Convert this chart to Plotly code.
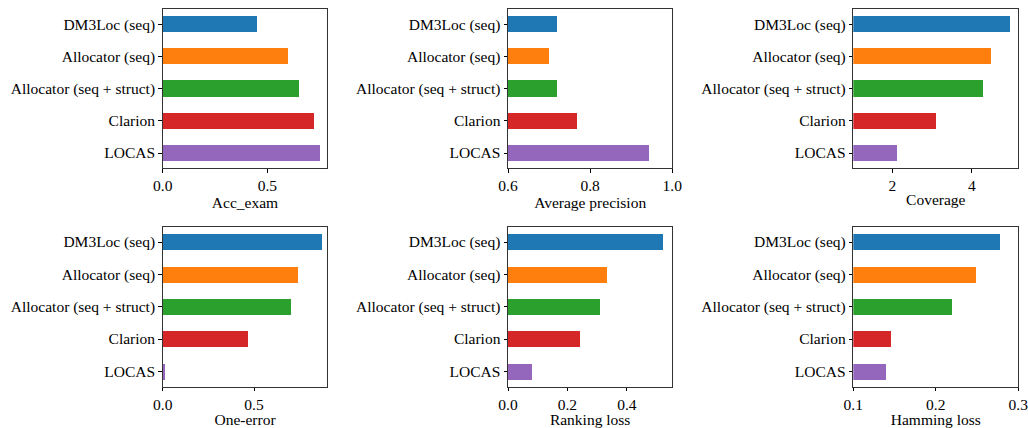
import plotly.graph_objects as go
from plotly.subplots import make_subplots

methods = ["DM3Loc (seq)", "Allocator (seq)", "Allocator (seq + struct)", "Clarion", "LOCAS"]
colors = ["#1f77b4", "#ff7f0e", "#2ca02c", "#d62728", "#9467bd"]

acc_exam = [0.449, 0.597, 0.650, 0.721, 0.748]
avg_precision = [0.720, 0.700, 0.720, 0.769, 0.944]
coverage = [4.97, 4.48, 4.29, 3.11, 2.13]
one_error = [0.870, 0.741, 0.701, 0.463, 0.011]
ranking_loss = [0.522, 0.332, 0.311, 0.242, 0.080]
hamming_loss = [0.278, 0.249, 0.220, 0.146, 0.140]

metrics = [
    ("Acc_exam", acc_exam, [0, 0.786], [0, 0.5], ["0.0", "0.5"]),
    ("Average precision", avg_precision, [0.6, 1.0], [0.6, 0.8, 1.0], ["0.6", "0.8", "1.0"]),
    ("Coverage", coverage, [1.02, 5.17], [2, 4], ["2", "4"]),
    ("One-error", one_error, [0, 0.901], [0, 0.5], ["0.0", "0.5"]),
    ("Ranking loss", ranking_loss, [0, 0.553], [0, 0.2, 0.4], ["0.0", "0.2", "0.4"]),
    ("Hamming loss", hamming_loss, [0.1, 0.30001], [0.1, 0.2, 0.3], ["0.1", "0.2", "0.3"]),
]

W, H = 1028, 428
xdoms = [(162.7, 327.3), (508.0, 672.3), (853.3, 1018.3)]
ydoms = [(9.3, 168.3), (226.7, 386.7)]

fig = make_subplots(rows=2, cols=3)
font = dict(family="Liberation Serif", size=15.5, color="black")

for i, (name, vals, rng, tv, tt) in enumerate(metrics):
    r, c = i // 3, i % 3
    base = rng[0] if rng[0] > 0 else 0
    fig.add_trace(
        go.Bar(
            y=methods, x=[v - base for v in vals], base=base, orientation="h",
            marker=dict(color=colors, line=dict(width=0)), width=0.5, showlegend=False,
        ),
        row=r + 1, col=c + 1,
    )
    idx = "" if i == 0 else str(i + 1)
    x0, x1 = xdoms[c]
    y0, y1 = ydoms[r]
    fig.layout["xaxis" + idx].update(
        domain=[x0 / W, x1 / W], range=rng, tickvals=tv, ticktext=tt,
        ticks="outside", ticklen=3.5, tickwidth=1, tickcolor="black",
        showline=True, linecolor="#333", linewidth=1, mirror=True,
        showgrid=False, zeroline=False, tickfont=font, automargin=False,
        ticklabeloverflow="allow",
        title=dict(text=name, font=font, standoff=0),
    )
    fig.layout["yaxis" + idx].update(
        domain=[1 - y1 / H, 1 - y0 / H], type="category",
        categoryorder="array", categoryarray=methods[::-1], range=[-0.475, 4.475],
        ticks="outside", ticklen=3.5, tickwidth=1, tickcolor="black",
        showline=True, linecolor="#333", linewidth=1, mirror=True,
        showgrid=False, zeroline=False, tickfont=font, automargin=False,
        ticklabeloverflow="allow",
    )

fig.update_layout(
    width=W, height=H, margin=dict(l=0, r=0, t=0, b=0, autoexpand=False),
    plot_bgcolor="white", paper_bgcolor="white", font=font, bargap=0,
)
fig.write_html(
    "out.html",
    config={"displayModeBar": False},
    post_script="document.body.style.margin='0';document.body.style.padding='0';",
)
